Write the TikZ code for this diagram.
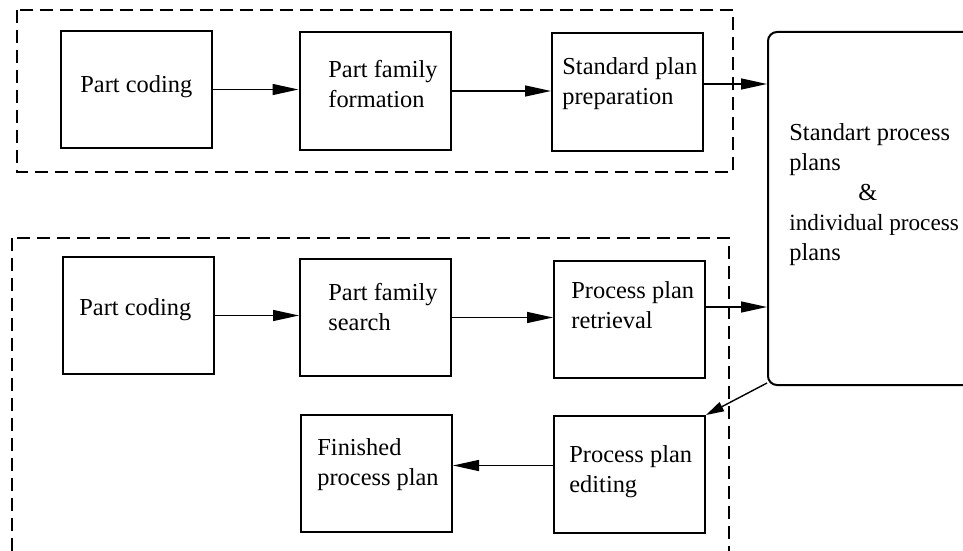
\documentclass[tikz,border=0pt]{standalone}
\usepackage{fontspec}
\setmainfont{Liberation Serif}
\usetikzlibrary{arrows.meta}

\begin{document}
\begin{tikzpicture}[x=0.5pt, y=-0.5pt, >={Triangle[length=13pt, width=5.5pt]},
  stepbox/.style={draw, line width=1pt, minimum width=75.5pt, minimum height=58.5pt, inner sep=0pt},
  planbox/.style={draw, line width=1pt, rounded corners=4.5pt, minimum width=111pt, minimum height=176.5pt, inner sep=0pt},
  steptext/.style={anchor=north west, inner sep=0pt, align=left, font=\fontsize{12.2}{15}\selectfont},
  groupframe/.style={draw, line width=1pt, dash pattern=on 6.5pt off 3.5pt},
  flow/.style={->, line width=0.7pt}]

\clip (0, 0) rectangle (963, 551);
\fill[white] (0, 0) rectangle (963, 551);

% standard plan preparation
\draw[groupframe] (17, 10) rectangle (733, 172);
\node[stepbox] (code1) at (136.5, 89.5) {};
\node[steptext] (code1text) at (80, 75) {Part coding};
\node[stepbox] (form1) at (375, 91) {};
\node[steptext] (form1text) at (328, 60) {Part family\\formation};
\node[stepbox] (prep1) at (627.5, 92) {};
\node[steptext] (prep1text) at (562, 57) {Standard plan\\preparation};

% plan store
\node[planbox] (plans) at (879, 208.5) {};
\node[steptext] (planstext) at (789, 123) {Standart process\\plans\\\hspace*{34.5pt}\&\\{\fontsize{11.6}{15}\selectfont individual process}\\plans};

% plan retrieval and editing
\draw[groupframe] (12, 238) rectangle (729, 620);
\node[stepbox] (code2) at (138, 315.5) {};
\node[steptext] (code2text) at (79, 298) {Part coding};
\node[stepbox] (search2) at (375.5, 317.5) {};
\node[steptext] (search2text) at (328, 283) {Part family\\search};
\node[stepbox] (retr2) at (629.5, 319) {};
\node[steptext] (retr2text) at (571, 281) {Process plan\\retrieval};
\node[stepbox] (fin3) at (376.5, 473) {};
\node[steptext] (fin3text) at (317, 438) {Finished\\process plan};
\node[stepbox] (edit3) at (629.5, 474.5) {};
\node[steptext] (edit3text) at (569, 445) {Process plan\\editing};

% connectors
\coordinate (prep1out) at ([yshift=4pt]prep1.east);
\coordinate (retr2out) at ([yshift=6pt]retr2.east);
\coordinate (edit3out) at ([yshift=4.5pt]edit3.west);

\draw[flow] (code1.east) -- (code1.east -| form1.west);
\draw[flow] (form1.east) -- (form1.east -| prep1.west);
\draw[flow] (prep1out) -- (prep1out -| plans.west);
\draw[flow] (code2.east) -- (code2.east -| search2.west);
\draw[flow] (search2.east) -- (search2.east -| retr2.west);
\draw[flow] (retr2out) -- (retr2out -| plans.west);
\draw[-{Triangle[length=9pt, width=5pt]}, line width=0.7pt] ([yshift=1.5pt]plans.south west) -- (edit3.north east);
\draw[flow] (edit3out) -- (edit3out -| fin3.east);

\end{tikzpicture}
\end{document}
